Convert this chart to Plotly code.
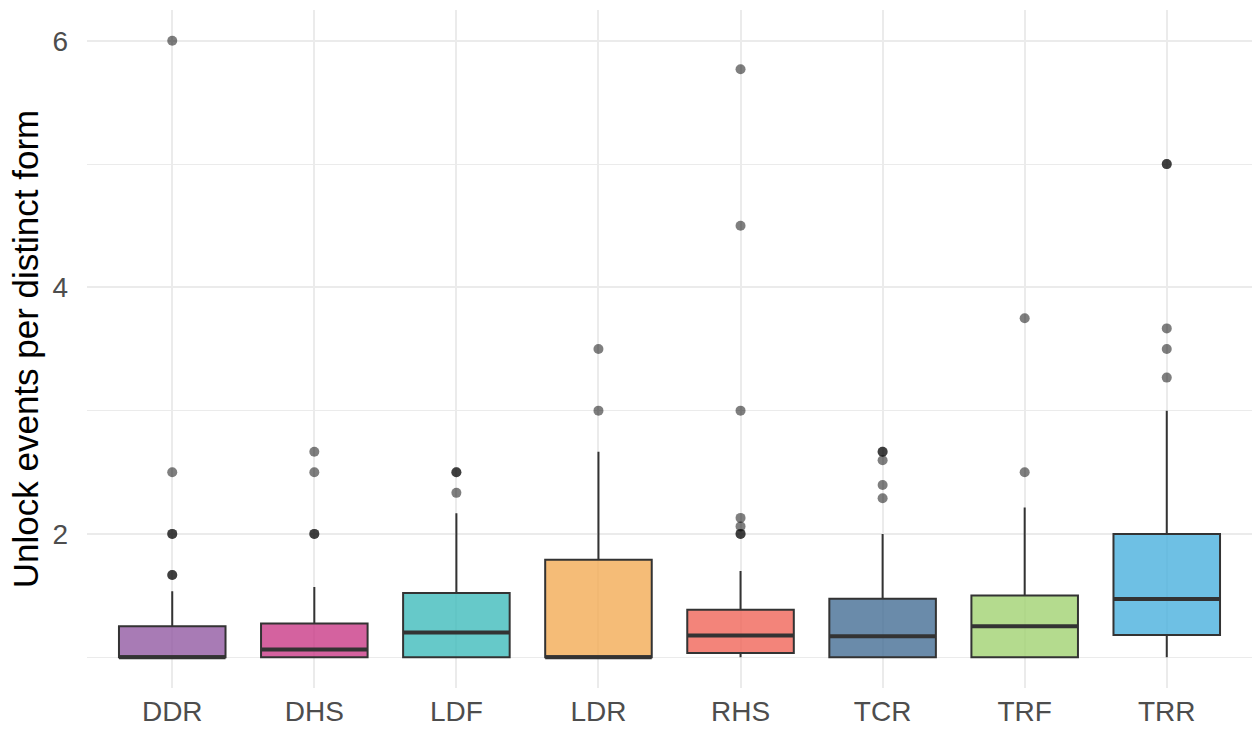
import plotly.graph_objects as go

categories = ["DDR", "DHS", "LDF", "LDR", "RHS", "TCR", "TRF", "TRR"]
q1 = [1.0, 1.0, 1.0, 1.0, 1.034, 1.0, 1.0, 1.18]
median = [1.0, 1.0625, 1.2, 1.0, 1.175, 1.17, 1.25, 1.472]
q3 = [1.25, 1.273, 1.521, 1.79, 1.385, 1.475, 1.5, 2.0]
lower_whisker = [1.0, 1.0, 1.0, 1.0, 1.0, 1.0, 1.0, 1.0]
upper_whisker = [1.534, 1.57, 2.167, 2.667, 1.7, 2.0, 2.215, 3.0]
outliers = [
    [1.667, 1.667, 2.0, 2.0, 2.5, 6.0],
    [2.0, 2.0, 2.5, 2.667],
    [2.333, 2.5, 2.5],
    [3.0, 3.5],
    [2.0, 2.0, 2.061, 2.13, 3.0, 4.5, 5.77],
    [2.289, 2.397, 2.597, 2.667, 2.667],
    [2.5, 3.75],
    [3.268, 3.5, 3.667, 5.0, 5.0],
]
fill_colors = [
    "rgba(146,90,163,0.8)", "rgba(201,59,135,0.8)", "rgba(64,188,188,0.8)",
    "rgba(243,171,85,0.8)", "rgba(240,101,89,0.8)", "rgba(69,110,149,0.8)",
    "rgba(161,210,114,0.8)", "rgba(74,176,221,0.8)",
]

LINE = "#333333"
BOX_W = 0.75
fig = go.Figure()

for i, cat in enumerate(categories):
    fig.add_trace(go.Box(
        x=[i], q1=[q1[i]], median=[median[i]], q3=[q3[i]],
        lowerfence=[lower_whisker[i]], upperfence=[upper_whisker[i]],
        fillcolor=fill_colors[i], line=dict(color=LINE, width=2),
        width=BOX_W, whiskerwidth=0, boxpoints=False, showlegend=False,
        hoverinfo="skip", name=cat,
    ))
    # thicker median line (ggplot fatten)
    fig.add_trace(go.Scatter(
        x=[i - BOX_W / 2, i + BOX_W / 2], y=[median[i], median[i]],
        mode="lines", line=dict(color=LINE, width=4), showlegend=False,
        hoverinfo="skip",
    ))
    fig.add_trace(go.Scatter(
        x=[i] * len(outliers[i]), y=outliers[i], mode="markers",
        marker=dict(color="rgba(0,0,0,0.5)", size=10, line=dict(width=0)),
        showlegend=False, hoverinfo="skip",
    ))

GRID = "#EBEBEB"
fig.update_layout(
    width=1252, height=730,
    margin=dict(l=87, r=0, t=10, b=42, autoexpand=False),
    plot_bgcolor="white", paper_bgcolor="white",
    font=dict(family="Liberation Sans, Arial, sans-serif"),
    xaxis=dict(
        range=[-0.6, len(categories) - 0.4],
        tickmode="array", tickvals=list(range(len(categories))), ticktext=categories,
        showgrid=True, gridcolor=GRID, gridwidth=2, zeroline=False, showline=False,
        ticks="", tickfont=dict(size=28, color="#4D4D4D"), ticklabelstandoff=4,
    ),
    yaxis=dict(
        range=[0.75, 6.25],
        tickmode="array", tickvals=[2, 4, 6], ticktext=["2", "4", "6"],
        showgrid=True, gridcolor=GRID, gridwidth=2, zeroline=False, showline=False,
        ticks="", tickfont=dict(size=28, color="#4D4D4D"), ticklabelstandoff=18,
        minor=dict(tickvals=[1, 3, 5], showgrid=True, gridcolor=GRID, gridwidth=1.3, ticks=""),
        title=dict(text="Unlock events per distinct form", font=dict(size=35, color="black"), standoff=3),
    ),
)

fig.write_html(
    "out.html",
    config={"displayModeBar": False},
    post_script="document.body.style.margin='0';document.body.style.overflow='hidden';",
)
